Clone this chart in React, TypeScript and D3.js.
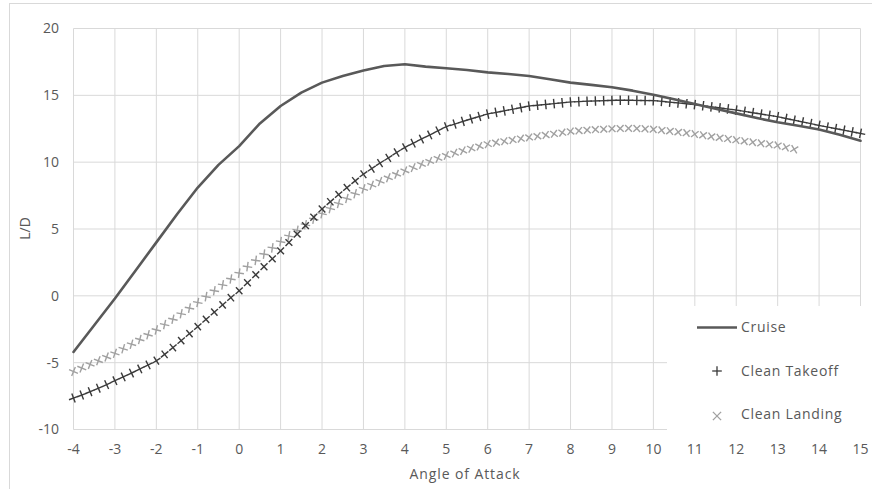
import React from "react";
import * as d3 from "d3";

// ---------- data ----------
const cruiseAoa = [-4, -3.5, -3, -2.5, -2, -1.5, -1, -0.5, 0, 0.5, 1, 1.5, 2, 2.5, 3, 3.5, 4, 4.5, 5, 5.5, 6, 6.5, 7, 7.5, 8, 8.5, 9, 9.5, 10, 10.5, 11, 11.5, 12, 12.5, 13, 13.5, 14, 14.5, 15];
const cruiseLD = [-4.2, -2.2, -0.2, 1.9, 4.0, 6.1, 8.1, 9.8, 11.2, 12.9, 14.2, 15.2, 15.95, 16.45, 16.85, 17.2, 17.32, 17.15, 17.03, 16.9, 16.72, 16.6, 16.45, 16.2, 15.95, 15.78, 15.6, 15.35, 15.05, 14.7, 14.35, 14.0, 13.65, 13.3, 12.98, 12.72, 12.45, 12.05, 11.6];

const markerAoa = [
  -4.0, -3.8, -3.6, -3.4, -3.2, -3.0, -2.8, -2.6, -2.4, -2.2,
  -2.0, -1.8, -1.6, -1.4, -1.2, -1.0, -0.8, -0.6, -0.4, -0.2,
  0.0, 0.2, 0.4, 0.6, 0.8, 1.0, 1.2, 1.4, 1.6, 1.8,
  2.0, 2.2, 2.4, 2.6, 2.8, 3.0, 3.2, 3.4, 3.6, 3.8,
  4.0, 4.2, 4.4, 4.6, 4.8, 5.0, 5.2, 5.4, 5.6, 5.8,
  6.0, 6.2, 6.4, 6.6, 6.8, 7.0, 7.2, 7.4, 7.6, 7.8,
  8.0, 8.2, 8.4, 8.6, 8.8, 9.0, 9.2, 9.4, 9.6, 9.8,
  10.0, 10.2, 10.4, 10.6, 10.8, 11.0, 11.2, 11.4, 11.6, 11.8,
  12.0, 12.2, 12.4, 12.6, 12.8, 13.0, 13.2, 13.4, 13.6, 13.8,
  14.0, 14.2, 14.4, 14.6, 14.8, 15.0,
];

const takeoffLD = [
  -7.65, -7.42, -7.17, -6.91, -6.64, -6.35, -6.07, -5.78, -5.47, -5.17,
  -4.85, -4.38, -3.87, -3.35, -2.83, -2.30, -1.76, -1.22, -0.68, -0.14,
  0.38, 0.98, 1.58, 2.18, 2.77, 3.36, 3.99, 4.62, 5.25, 5.88,
  6.50, 7.04, 7.57, 8.09, 8.60, 9.10, 9.52, 9.93, 10.32, 10.72,
  11.10, 11.42, 11.73, 12.04, 12.35, 12.65, 12.85, 13.05, 13.24, 13.42,
  13.60, 13.72, 13.84, 13.96, 14.08, 14.20, 14.26, 14.32, 14.38, 14.44,
  14.50, 14.53, 14.56, 14.58, 14.60, 14.62, 14.63, 14.63, 14.62, 14.61,
  14.60, 14.55, 14.49, 14.43, 14.37, 14.30, 14.22, 14.14, 14.06, 13.98,
  13.90, 13.80, 13.70, 13.60, 13.50, 13.40, 13.27, 13.14, 13.01, 12.88,
  12.75, 12.63, 12.51, 12.39, 12.27, 12.15,
];

const landingLD = [
  -5.66, -5.40, -5.13, -4.86, -4.58, -4.30, -3.96, -3.62, -3.27, -2.91,
  -2.55, -2.15, -1.75, -1.34, -0.92, -0.50, -0.06, 0.38, 0.82, 1.26,
  1.70, 2.18, 2.65, 3.12, 3.59, 4.05, 4.48, 4.90, 5.32, 5.74,
  6.15, 6.53, 6.91, 7.28, 7.64, 8.00, 8.28, 8.56, 8.83, 9.09,
  9.35, 9.59, 9.83, 10.06, 10.28, 10.50, 10.68, 10.86, 11.03, 11.19,
  11.35, 11.46, 11.56, 11.66, 11.76, 11.85, 11.94, 12.03, 12.12, 12.21,
  12.30, 12.35, 12.40, 12.44, 12.47, 12.50, 12.52, 12.53, 12.52, 12.49,
  12.45, 12.39, 12.32, 12.25, 12.18, 12.10, 12.01, 11.92, 11.83, 11.74,
  11.65, 11.57, 11.49, 11.41, 11.33, 11.25, 11.11, 10.97,
];

const xTicks = [-4, -3, -2, -1, 0, 1, 2, 3, 4, 5, 6, 7, 8, 9, 10, 11, 12, 13, 14, 15];
const yTicks = [-10, -5, 0, 5, 10, 15, 20];
const seriesNames = ["Cruise", "Clean Takeoff", "Clean Landing"];

// ---------- layout ----------
const W = 872;
const H = 489;
const FONT = "'Open Sans', Lato, sans-serif";
const TXT = "#595959";
const GRID = "#d9d9d9";

export default function App() {
  const x = d3.scaleLinear().domain([-4, 15]).range([73.5, 860.5]);
  const y = d3.scaleLinear().domain([-10, 20]).range([429.5, 28.5]);

  const cruisePts: [number, number][] = cruiseAoa.map((a, i) => [a, cruiseLD[i]]);
  const line = d3
    .line<[number, number]>()
    .x((d) => x(d[0]))
    .y((d) => y(d[1]));

  const markers = (vals: number[], baseRot: number) =>
    vals.map((v, i) => {
      const i0 = Math.max(0, i - 1);
      const i1 = Math.min(vals.length - 1, i + 1);
      const dx = x(markerAoa[i1]) - x(markerAoa[i0]);
      const dy = y(vals[i1]) - y(vals[i0]);
      const ang = (Math.atan2(dy, dx) * 180) / Math.PI + baseRot;
      return { cx: x(markerAoa[i]), cy: y(v), ang };
    });

  const takeoffM = markers(takeoffLD, 0);
  const landingM = markers(landingLD, 45);
  const r = 4.8;

  const legendX = 667;
  const legendY = 306;

  return (
    <svg width={W} height={H} style={{ display: "block", position: "absolute", left: 0, top: 0 }} fontFamily={FONT}>
      <rect x={0} y={0} width={W} height={H} fill="#fff" />
      <rect x={9.5} y={3.5} width={W + 20} height={H + 20} fill="none" stroke="#d9d9d9" />

      {/* grid */}
      {xTicks.map((t) => (
        <line key={"gx" + t} x1={x(t)} x2={x(t)} y1={y(20)} y2={y(-10)} stroke={GRID} strokeWidth={1} />
      ))}
      {yTicks.map((t) => (
        <line key={"gy" + t} x1={x(-4)} x2={x(15)} y1={y(t)} y2={y(t)} stroke={GRID} strokeWidth={1} />
      ))}

      {/* tick labels */}
      {yTicks.map((t) => (
        <text key={"ty" + t} x={59} y={y(t)} dy="0.35em" textAnchor="end" fontSize={14} fill={TXT}>
          {t}
        </text>
      ))}
      {xTicks.map((t) => (
        <text key={"tx" + t} x={x(t)} y={449} dy="0.35em" textAnchor="middle" fontSize={14} fill={TXT}>
          {t}
        </text>
      ))}

      {/* axis titles */}
      <text x={465} y={474} dy="0.35em" textAnchor="middle" fontSize={14} letterSpacing={0.9} fill={TXT}>
        Angle of Attack
      </text>
      <text transform={`translate(25,${228.5}) rotate(-90)`} dy="0.35em" textAnchor="middle" fontSize={14} fill={TXT}>
        L/D
      </text>

      {/* landing markers */}
      {landingM.map((m, i) => (
        <g key={"l" + i} transform={`translate(${m.cx},${m.cy}) rotate(${m.ang})`} stroke="#a0a0a0" strokeWidth={1.4}>
          <line x1={-r} x2={r} y1={0} y2={0} />
          <line x1={0} x2={0} y1={-r} y2={r} />
        </g>
      ))}
      {/* takeoff markers */}
      {takeoffM.map((m, i) => (
        <g key={"t" + i} transform={`translate(${m.cx},${m.cy}) rotate(${m.ang})`} stroke="#3a3a3a" strokeWidth={1.4}>
          <line x1={-r} x2={r} y1={0} y2={0} />
          <line x1={0} x2={0} y1={-r} y2={r} />
        </g>
      ))}
      {/* cruise line */}
      <path d={line(cruisePts) || ""} fill="none" stroke="#595959" strokeWidth={2.6} strokeLinejoin="round" strokeLinecap="round" />

      {/* legend */}
      <rect x={legendX} y={legendY} width={W - legendX} height={128} fill="#fff" />
      <line x1={697} x2={737} y1={327.5} y2={327.5} stroke="#595959" strokeWidth={2.6} />
      <text x={741} y={327} dy="0.35em" fontSize={14} letterSpacing={0.7} fill={TXT}>{seriesNames[0]}</text>
      <g transform="translate(717,371)" stroke="#3a3a3a" strokeWidth={1.3}>
        <line x1={-r} x2={r} y1={0} y2={0} />
        <line x1={0} x2={0} y1={-r} y2={r} />
      </g>
      <text x={741} y={371} dy="0.35em" fontSize={14} letterSpacing={0.7} fill={TXT}>{seriesNames[1]}</text>
      <g transform="translate(717,416) rotate(45)" stroke="#a0a0a0" strokeWidth={1.3}>
        <line x1={-r - 1} x2={r + 1} y1={0} y2={0} />
        <line x1={0} x2={0} y1={-r - 1} y2={r + 1} />
      </g>
      <text x={741} y={414} dy="0.35em" fontSize={14} letterSpacing={0.7} fill={TXT}>{seriesNames[2]}</text>
    </svg>
  );
}
